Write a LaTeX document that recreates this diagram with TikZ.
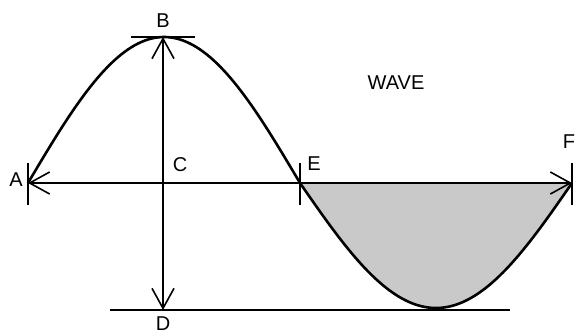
\documentclass[tikz,border=0pt]{standalone}
\usepackage{fontspec}
\setmainfont{Liberation Sans}
\usetikzlibrary{arrows.meta}

\begin{document}
\begin{tikzpicture}[x=0.5pt,y=-0.5pt,
  barbs/.style={line width=0.8pt,{Straight Barb[length=10pt,width=11pt]}-{Straight Barb[length=10pt,width=11pt]}},
  tickmark/.style={line width=0.8pt},
  wavecurve/.style={line width=1.3pt},
  lbl/.style={font=\fontsize{10}{12}\selectfont, inner sep=0pt}]
  \useasboundingbox (0,0) rectangle (576,333);
  % Punktai
  \coordinate (A) at (28,183);
  \coordinate (B) at (163,37);
  \coordinate (C) at (163,183);
  \coordinate (D) at (163,310);
  \coordinate (E) at (300,183);
  \coordinate (F) at (572,183);
  \coordinate (GL) at (110,310);
  \coordinate (GR) at (510,310);

  % Dauba
  \fill[black!21] plot[domain=300:572,samples=80] (\x,{183+125*sin((\x-300)/272*180)}) -- cycle;

  % Banga
  \draw[wavecurve] plot[domain=28:300,samples=80] (\x,{183-146*sin((\x-28)/272*180)});
  \draw[wavecurve] plot[domain=300:572,samples=80] (\x,{183+125*sin((\x-300)/272*180)});

  \draw[barbs] (A) -- (F);
  \draw[barbs] (B) -- (D);
  \draw[tickmark] (GL) -- (GR);

  \draw[tickmark] ([yshift=10pt]A) -- ([yshift=-11pt]A);
  \draw[tickmark] ([yshift=10pt]E) -- ([yshift=-11pt]E);
  \draw[tickmark] ([yshift=10pt]F) -- ([yshift=-11pt]F);
  \draw[tickmark] ([xshift=-16pt]B) -- ([xshift=16pt]B);

  \node[lbl] (lA) at (16,180) {A};
  \node[lbl] (lB) at (163,21) {B};
  \node[lbl] (lC) at (180,165) {C};
  \node[lbl] (lD) at (163,324) {D};
  \node[lbl] (lE) at (314,164) {E};
  \node[lbl] (lF) at (569,142) {F};
  \node[lbl] (wave) at (396,83) {WAVE};
\end{tikzpicture}
\end{document}
